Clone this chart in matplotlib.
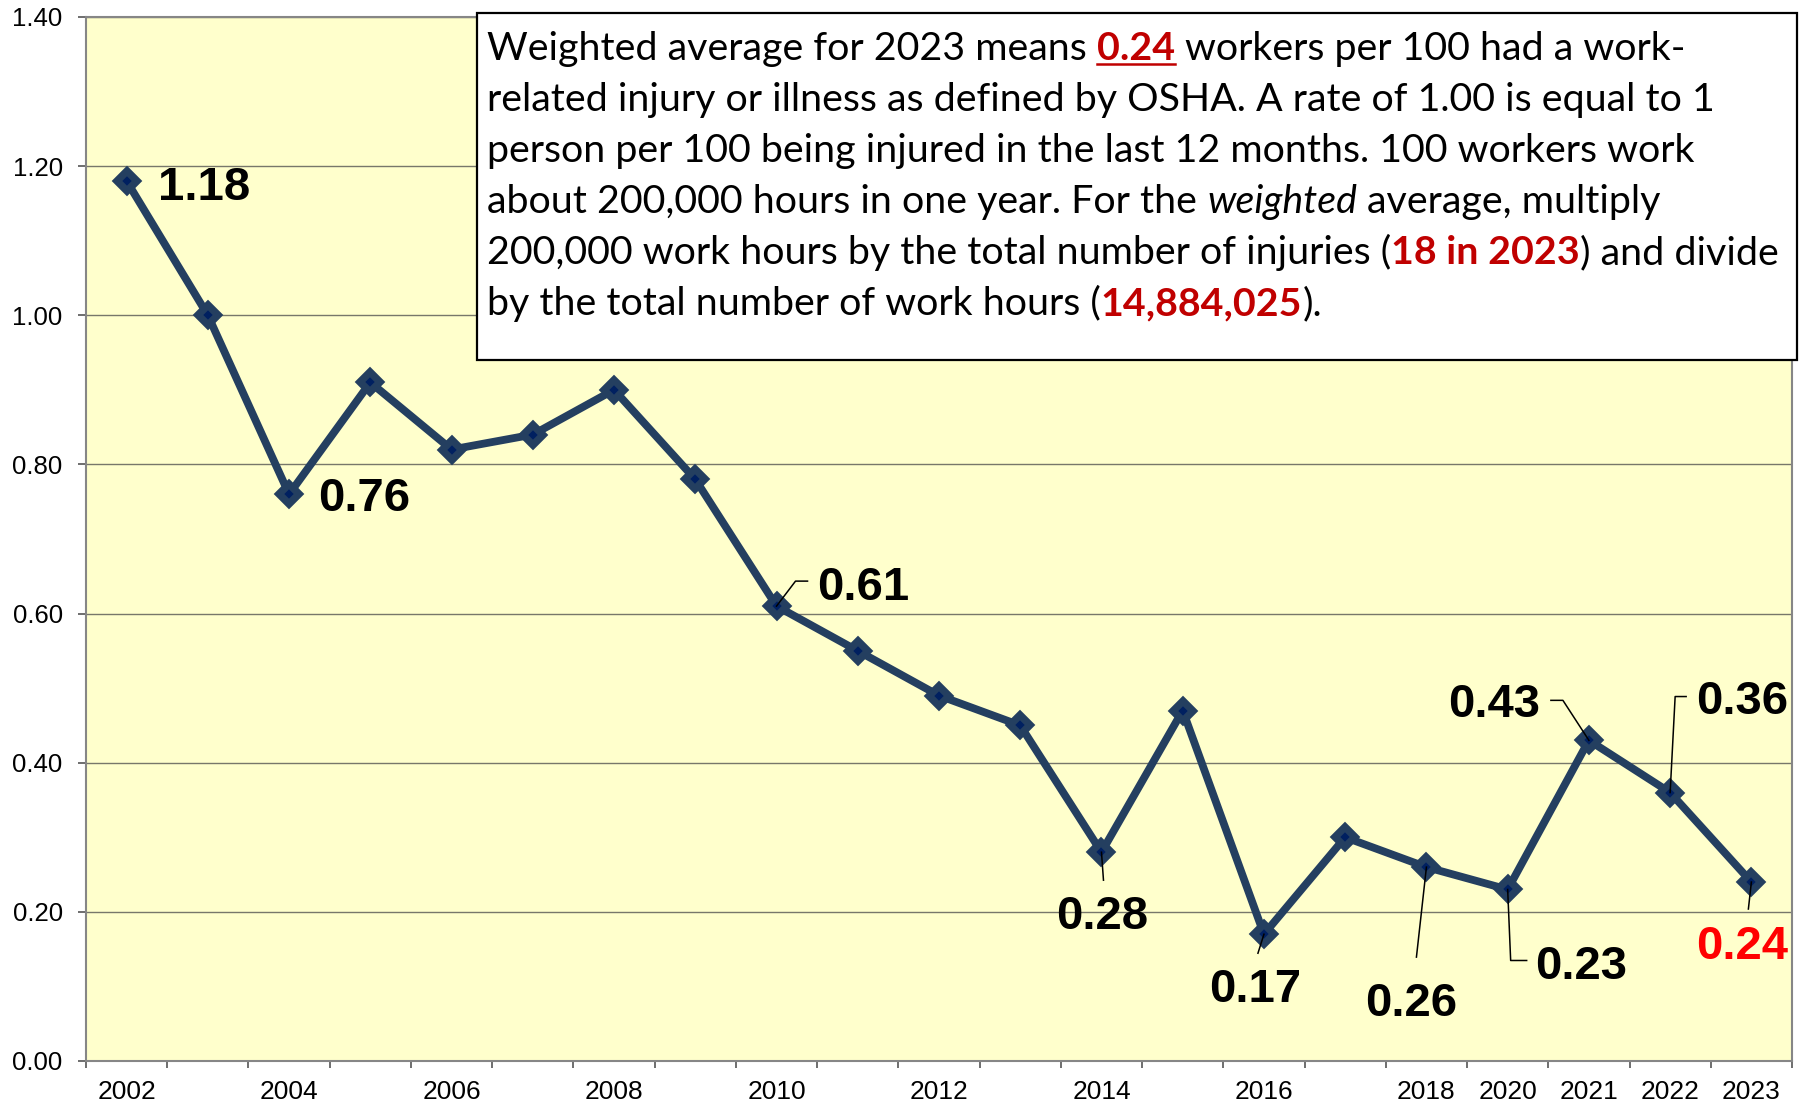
import numpy as np
import matplotlib.pyplot as plt
from matplotlib.ticker import FormatStrFormatter
from matplotlib.lines import Line2D
from matplotlib.patches import Rectangle

plt.rcParams['font.family'] = ['Liberation Sans', 'DejaVu Sans']

#%% data
years = ['2002', '2003', '2004', '2005', '2006', '2007', '2008', '2009', '2010',
         '2011', '2012', '2013', '2014', '2015', '2016', '2017', '2018',
         '2020', '2021', '2022', '2023']
rates = [1.18, 1.00, 0.76, 0.91, 0.82, 0.84, 0.90, 0.78, 0.61,
         0.55, 0.49, 0.45, 0.28, 0.47, 0.17, 0.30, 0.26,
         0.23, 0.43, 0.36, 0.24]
tick_years = ['2002', '2004', '2006', '2008', '2010', '2012', '2014', '2016',
              '2018', '2020', '2021', '2022', '2023']
labeled_years = ['2002', '2004', '2010', '2014', '2016', '2018',
                 '2020', '2021', '2022', '2023']

# label placement: ha, dx, dy (pixels), leader vertices (pixel offsets from point)
label_style = {
    '2002': ('left', 31, -7, None),
    '2004': ('left', 29, -5, None),
    '2010': ('left', 41, 18, [(0, 0), (19, 25), (31, 25)]),
    '2014': ('center', 1, -65, [(0, 0), (2, -28)]),
    '2016': ('center', -9, -56, [(0, 0), (-6, -19)]),
    '2018': ('center', -15, -137, [(0, 0), (-10, -90)]),
    '2020': ('left', 27, -78, [(0, 0), (3, -71), (19, -71)]),
    '2021': ('right', -49, 35, [(-38, 40), (-26, 40), (0, 0)]),
    '2022': ('left', 26, 91, [(0, 0), (5, 96), (16, 96)]),
    '2023': ('center', -9, -65, [(0, 0), (-3, -27)]),
}

W, H = 1801, 1105
fig = plt.figure(figsize=(W / 100, H / 100), dpi=100)
fig.patch.set_facecolor('white')
ax = fig.add_axes([86 / W, 44 / H, 1706 / W, 1044 / H])
ax.set_facecolor('#FFFFCC')
ax.set_axisbelow(True)

x = np.arange(len(years))
ax.plot(x, rates, color='#243F60', lw=5.6, marker='D', ms=10.5,
        mfc='#002060', mec='#243F60', mew=5.4, zorder=3)

ax.set_xlim(-0.5, len(years) - 0.5)
ax.set_ylim(0, 1.4)
ax.set_yticks(np.arange(0, 1.41, 0.2))
ax.yaxis.set_major_formatter(FormatStrFormatter('%.2f'))
ax.grid(axis='y', color='#77776a', lw=1.0)

# ticks between categories, labels under categories
ax.set_xticks(np.arange(-0.5, len(years), 1.0))
ax.set_xticklabels([])
ax.set_xticks([years.index(y) for y in tick_years], minor=True)
ax.set_xticklabels(tick_years, minor=True)
ax.tick_params(axis='x', which='major', length=5, width=1.2, color='#555555', direction='out')
ax.tick_params(axis='x', which='minor', length=0, pad=14, labelsize=19)
ax.tick_params(axis='y', length=5.8, width=1.2, color='#555555', pad=11, labelsize=18.5)
for s in ax.spines.values():
    s.set_color('#868686')
    s.set_linewidth(1.5)

# data labels with leader lines
for yr in labeled_years:
    i = years.index(yr)
    v = rates[i]
    ha, dx, dy, leader = label_style[yr]
    col = '#FF0000' if yr == '2023' else 'black'
    ax.annotate(f'{v:.2f}', (i, v), xytext=(dx, dy), textcoords='offset pixels',
                ha=ha, va='center', fontsize=34, fontweight='bold', color=col, zorder=6)
    if leader:
        p = ax.transData.transform((i, v))
        pts = ax.transData.inverted().transform(np.array(leader, float) + p)
        ax.plot(pts[:, 0], pts[:, 1], color='black', lw=1.1, zorder=5)

#%% text box
box_x0, box_y0, box_x1, box_y1 = 477, 13, 1797, 360
fig.add_artist(Rectangle((box_x0 / W, 1 - box_y1 / H), (box_x1 - box_x0) / W,
                         (box_y1 - box_y0) / H, transform=fig.transFigure,
                         facecolor='white', edgecolor='black', lw=1.6, zorder=10))

RED = '#C00000'
lines = [
    [('Weighted average for 2023 means ', {}),
     ('0.24', {'color': RED, 'weight': 'bold', 'underline': True}),
     (' workers per 100 had a work-', {})],
    [('related injury or illness as defined by OSHA. A rate of 1.00 is equal to 1', {})],
    [('person per 100 being injured in the last 12 months. 100 workers work', {})],
    [('about 200,000 hours in one year. For the ', {}),
     ('weighted', {'style': 'italic'}),
     (' average, multiply', {})],
    [('200,000 work hours by the total number of injuries (', {}),
     ('18 in 2023', {'color': RED, 'weight': 'bold'}),
     (') and divide', {})],
    [('by the total number of work hours (', {}),
     ('14,884,025', {'color': RED, 'weight': 'bold'}),
     (').', {})],
]
box_font = ['Lato', 'DejaVu Sans']
renderer = fig.canvas.get_renderer()


def text_width(s, fs, **kw):
    t = fig.text(0, 0, s, fontsize=fs, family=box_font, **kw)
    w = t.get_window_extent(renderer).width
    t.remove()
    return w


def rich_line(parts, x0, y0, fs, draw=True):
    sp = text_width('x x', fs) - text_width('xx', fs)
    xp = x0
    for s, st in parts:
        st = dict(st)
        under = st.pop('underline', False)
        core = s.strip(' ')
        xp += (len(s) - len(s.lstrip(' '))) * sp
        kw = dict(color=st.get('color', 'black'), fontweight=st.get('weight', 'normal'),
                  fontstyle=st.get('style', 'normal'))
        w = text_width(core, fs, **kw)
        if draw:
            fig.text(xp / W, 1 - y0 / H, core, fontsize=fs, family=box_font,
                     ha='left', va='baseline', zorder=11, **kw)
            if under:
                fig.add_artist(Line2D([xp / W, (xp + w) / W],
                                      [1 - (y0 + 4) / H, 1 - (y0 + 4) / H],
                                      color=kw['color'], lw=1.8, zorder=11))
        xp += w + (len(s) - len(s.rstrip(' '))) * sp
    return xp


# fit font size so the widest line matches the box
text_x = 487
w_test = rich_line(lines[4], 0, 0, 30, draw=False)
fs = 30 * 1292 / w_test
for k, parts in enumerate(lines):
    rich_line(parts, text_x, 60 + 51 * k, fs)

fig.savefig('out.png', dpi=100)
